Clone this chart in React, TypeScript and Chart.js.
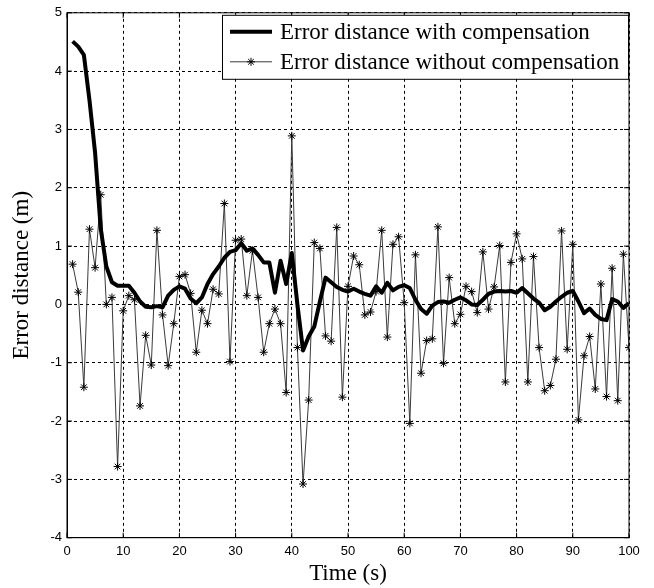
import React, { useEffect, useRef } from "react";
import { Chart, registerables } from "chart.js";

Chart.register(...registerables);

// ---- data ----
const timeSeconds = [
  1, 2, 3, 4, 5, 6, 7, 8, 9, 10,
  11, 12, 13, 14, 15, 16, 17, 18, 19, 20,
  21, 22, 23, 24, 25, 26, 27, 28, 29, 30,
  31, 32, 33, 34, 35, 36, 37, 38, 39, 40,
  41, 42, 43, 44, 45, 46, 47, 48, 49, 50,
  51, 52, 53, 54, 55, 56, 57, 58, 59, 60,
  61, 62, 63, 64, 65, 66, 67, 68, 69, 70,
  71, 72, 73, 74, 75, 76, 77, 78, 79, 80,
  81, 82, 83, 84, 85, 86, 87, 88, 89, 90,
  91, 92, 93, 94, 95, 96, 97, 98, 99, 100,
];

const withCompensation = [
  4.51, 4.42, 4.28, 3.5, 2.6, 1.3, 0.65, 0.38, 0.32, 0.32,
  0.32, 0.2, 0.05, -0.04, -0.05, -0.03, -0.05, 0.15, 0.25, 0.31,
  0.27, 0.1, 0.02, 0.12, 0.35, 0.52, 0.65, 0.8, 0.9, 0.93,
  1.05, 0.92, 0.96, 0.85, 0.72, 0.72, 0.2, 0.75, 0.35, 0.88,
  0.0, -0.79, -0.55, -0.38, 0.05, 0.46, 0.38, 0.3, 0.25, 0.22,
  0.27, 0.22, 0.18, 0.15, 0.31, 0.2, 0.37, 0.24, 0.3, 0.33,
  0.28, 0.08, -0.08, -0.16, -0.02, 0.04, 0.05, 0.03, 0.08, 0.12,
  0.07, 0.0, -0.01, 0.08, 0.18, 0.22, 0.23, 0.22, 0.23, 0.2,
  0.28, 0.19, 0.1, 0.03, -0.1, -0.04, 0.05, 0.13, 0.2, 0.23,
  0.05, -0.15, -0.07, -0.18, -0.25, -0.27, 0.09, 0.05, -0.06, 0.02,
];

const withoutCompensation = [
  0.69, 0.21, -1.42, 1.29, 0.63, 1.88, 0.0, 0.12, -2.78, -0.11,
  0.15, 0.08, -1.74, -0.53, -1.04, 1.27, -0.18, -1.05, -0.33, 0.48,
  0.51, 0.19, -0.82, -0.1, -0.33, 0.26, 0.18, 1.73, -0.98, 1.1,
  1.12, 0.15, 0.92, 0.12, -0.82, -0.33, -0.08, -0.33, -1.51, 2.89,
  -0.74, -3.08, -1.64, 1.06, 0.96, -0.54, -0.63, 1.32, -1.59, 0.31,
  0.83, 0.68, -0.18, -0.13, 0.22, 1.27, -0.56, 1.03, 1.16, 0.03,
  -2.04, 0.85, -1.18, -0.62, -0.59, 1.33, -1.01, 0.46, -0.33, -0.17,
  0.31, 0.22, -0.14, 0.9, -0.08, 0.3, 1.01, -1.33, 0.72, 1.21,
  0.78, -1.33, 0.82, -0.74, -1.48, -1.39, -0.94, 1.26, -0.77, 1.03,
  -1.98, -0.88, -0.55, -1.45, 0.35, -1.58, 0.62, -1.65, 0.86, -0.74,
];

const seriesLabels = [
  "Error distance with compensation",
  "Error distance without compensation",
];

const xAxisTitle = "Time (s)";
const yAxisTitle = "Error distance (m)";
const xRange = [0, 100];
const yRange = [-4, 5];
const xStep = 10;
const yStep = 1;

const SERIF = '"Liberation Serif", "Times New Roman", serif';
const SANS = '"Liberation Sans", Arial, sans-serif';

const framePlugin = {
  id: "matlabFrame",
  afterDatasetsDraw(chart: any) {
    const { ctx, chartArea: a, scales } = chart;
    ctx.save();
    ctx.setLineDash([]);
    ctx.strokeStyle = "#000";
    ctx.lineWidth = 1;
    ctx.strokeRect(a.left, a.top, a.right - a.left, a.bottom - a.top);
    const tl = 5;
    ctx.beginPath();
    scales.x.ticks.forEach((t: any) => {
      const px = scales.x.getPixelForValue(t.value);
      ctx.moveTo(px, a.bottom);
      ctx.lineTo(px, a.bottom - tl);
      ctx.moveTo(px, a.top);
      ctx.lineTo(px, a.top + tl);
    });
    scales.y.ticks.forEach((t: any) => {
      const py = scales.y.getPixelForValue(t.value);
      ctx.moveTo(a.left, py);
      ctx.lineTo(a.left + tl, py);
      ctx.moveTo(a.right, py);
      ctx.lineTo(a.right - tl, py);
    });
    ctx.stroke();

    // legend box (inside, top-right)
    const ds = chart.data.datasets;
    const boxW = 406;
    const boxH = 64;
    const bx = a.right - boxW - 1;
    const by = a.top + 2;
    ctx.fillStyle = "#fff";
    ctx.fillRect(bx, by, boxW, boxH);
    ctx.strokeStyle = "#000";
    ctx.lineWidth = 1;
    ctx.strokeRect(bx + 0.5, by + 0.5, boxW, boxH);

    const rows = [by + 17, by + 47];
    const lx0 = bx + 8;
    const lx1 = bx + 50;
    ctx.font = `23px ${SERIF}`;
    ctx.textBaseline = "middle";
    ctx.textAlign = "left";
    ds.forEach((d: any, i: number) => {
      const y = rows[i];
      ctx.beginPath();
      ctx.lineWidth = d.borderWidth;
      ctx.strokeStyle = d.borderColor;
      ctx.moveTo(lx0, y);
      ctx.lineTo(lx1, y);
      ctx.stroke();
      if (d.pointStyle === "star") {
        const cx = (lx0 + lx1) / 2;
        const r = 4;
        ctx.beginPath();
        ctx.lineWidth = 1;
        ctx.strokeStyle = "#000";
        ctx.moveTo(cx - r, y);
        ctx.lineTo(cx + r, y);
        ctx.moveTo(cx, y - r);
        ctx.lineTo(cx, y + r);
        const k = r * Math.SQRT1_2;
        ctx.moveTo(cx - k, y - k);
        ctx.lineTo(cx + k, y + k);
        ctx.moveTo(cx - k, y + k);
        ctx.lineTo(cx + k, y - k);
        ctx.stroke();
      }
      ctx.fillStyle = "#000";
      ctx.fillText(d.label, lx1 + 8, y + 1);
    });
    ctx.restore();
  },
};

export default function App() {
  const canvasRef = useRef<HTMLCanvasElement | null>(null);

  useEffect(() => {
    if (!canvasRef.current) return;
    const chart = new Chart(canvasRef.current, {
      type: "line",
      data: {
        datasets: [
          {
            label: seriesLabels[0],
            data: timeSeconds.map((t, i) => ({ x: t, y: withCompensation[i] })),
            borderColor: "#000",
            borderWidth: 4,
            pointRadius: 0,
            tension: 0,
            borderJoinStyle: "round",
            order: 0,
          },
          {
            label: seriesLabels[1],
            data: timeSeconds.map((t, i) => ({ x: t, y: withoutCompensation[i] })),
            borderColor: "#3a3a3a",
            borderWidth: 1,
            pointStyle: "star",
            pointRadius: 4,
            pointBorderColor: "#000",
            pointBackgroundColor: "#000",
            pointBorderWidth: 1,
            tension: 0,
            order: 1,
          },
        ],
      },
      options: {
        responsive: false,
        animation: false,
        devicePixelRatio: 1,
        layout: { padding: { top: 12.7, right: 25, left: 0, bottom: 0 } },
        plugins: {
          legend: { display: false },
          tooltip: { enabled: false },
        },
        scales: {
          x: {
            type: "linear",
            min: xRange[0],
            max: xRange[1],
            afterFit(scale: any) {
              scale.height = 50.3;
            },
            ticks: {
              stepSize: xStep,
              color: "#000",
              font: { family: SANS, size: 13 },
              padding: 6,
              maxRotation: 0,
              autoSkip: false,
            },
            grid: { color: "#000", lineWidth: 1, drawTicks: false },
            border: { display: true, color: "#000", dash: [3, 3] },
            title: {
              display: true,
              text: xAxisTitle,
              color: "#000",
              font: { family: SERIF, size: 23 },
              padding: { top: 0, bottom: 0 },
            },
          },
          y: {
            type: "linear",
            min: yRange[0],
            max: yRange[1],
            afterFit(scale: any) {
              scale.width = 67;
            },
            ticks: {
              stepSize: yStep,
              color: "#000",
              font: { family: SANS, size: 13 },
              padding: 5,
            },
            grid: { color: "#000", lineWidth: 1, drawTicks: false },
            border: { display: true, color: "#000", dash: [3, 3] },
            title: {
              display: true,
              text: yAxisTitle,
              color: "#000",
              font: { family: SERIF, size: 23 },
              padding: { top: 8, bottom: 0 },
            },
          },
        },
      },
      plugins: [framePlugin],
    } as any);
    return () => chart.destroy();
  }, []);

  return (
    <div style={{ position: "absolute", left: 0, top: 0, width: 654, height: 588, background: "#fff" }}>
      <canvas ref={canvasRef} width={654} height={588} style={{ display: "block" }} />
    </div>
  );
}
